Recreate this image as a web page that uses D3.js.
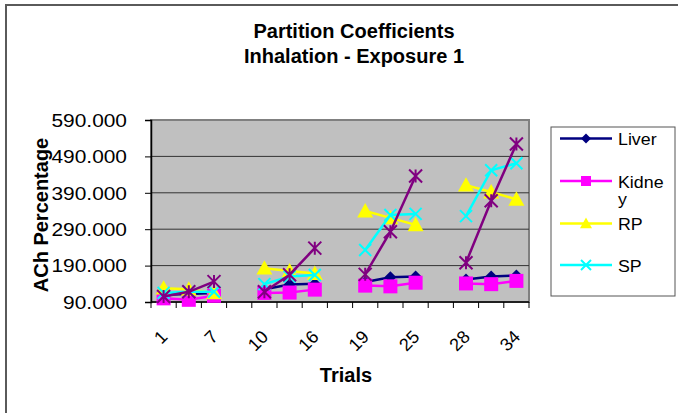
<!DOCTYPE html>
<html>
<head>
<meta charset="utf-8">
<script src="https://cdn.jsdelivr.net/npm/d3@7"></script>
<style>
html,body{margin:0;padding:0;background:#fff;}
svg{display:block;font-family:"Liberation Sans",Arial,sans-serif;}
</style>
</head>
<body>
<svg id="chart" width="678" height="413"></svg>
<script>
// ---- data ----
const categories = ["1","4","7","","10","13","16","","19","22","25","","28","31","34"];
const tickLabels = ["1","7","10","16","19","25","28","34"];
const liver  = [110,112,115,null,125,138,140,null,145,158,160,null,152,160,163];
const kidney = [100, 96,107,null,115,116,124,null,135,133,143,null,141,139,148];
const rp     = [128,125,115,null,183,175,168,null,340,321,302,null,411,392,372];
const sp     = [115,118,118,null,139,160,164,null,233,329,332,null,326,452,471];
const series5= [105,118,146,null,118,165,238,null,166,283,436,null,198,368,524];
const yTicks = [90,190,290,390,490,590];

const seriesList = [
  {name:"Liver",  values:liver,  color:"#000080", marker:"diamond", legend:true},
  {name:"Kidney", values:kidney, color:"#ff00ff", marker:"square",  legend:true},
  {name:"RP",     values:rp,     color:"#ffff00", marker:"triangle",legend:true},
  {name:"SP",     values:sp,     color:"#00ffff", marker:"x",       legend:true},
  {name:"Series5",values:series5,color:"#800080", marker:"star",    legend:false}
];

const svg = d3.select("#chart");
const plot = {left:151, right:529, top:120, bottom:302};

// outer chart border
svg.append("rect").attr("x",6).attr("y",5).attr("width",720).attr("height",520)
  .attr("fill","none").attr("stroke","#5a5a5a").attr("stroke-width",2);

// title
const title = svg.append("text").attr("text-anchor","middle").attr("font-weight","bold")
  .attr("font-size",20).attr("fill","#000");
title.append("tspan").attr("x",354).attr("y",38).text("Partition Coefficients");
title.append("tspan").attr("x",354).attr("y",63).text("Inhalation - Exposure 1");

const x = d3.scaleBand().domain(d3.range(categories.length)).range([plot.left, plot.right]).padding(0);
const y = d3.scaleLinear().domain([90,590]).range([plot.bottom, plot.top]);

// plot area
svg.append("rect").attr("x",plot.left).attr("y",plot.top)
  .attr("width",plot.right-plot.left).attr("height",plot.bottom-plot.top)
  .attr("fill","#c0c0c0").attr("stroke","#808080").attr("stroke-width",2);

// gridlines
svg.append("g").selectAll("line").data(yTicks.slice(1,-1)).join("line")
  .attr("x1",plot.left).attr("x2",plot.right)
  .attr("y1",d=>y(d)).attr("y2",d=>y(d))
  .attr("stroke","#333").attr("stroke-width",1);

// y axis
const yAxis = d3.axisLeft(y).tickValues(yTicks).tickSize(6).tickFormat("");
const gy = svg.append("g").attr("transform",`translate(${plot.left},0)`).call(yAxis);
gy.select(".domain").attr("stroke","#000").attr("stroke-width",1.5);
gy.selectAll(".tick line").attr("stroke","#000");
svg.append("g").selectAll("g").data(yTicks).join("g")
  .attr("transform",d=>`translate(127,${y(d)}) scale(1.1,1)`)
  .append("text").attr("text-anchor","end").attr("dy","0.36em")
  .attr("font-size",19).attr("fill","#000").text(d=>d3.format(".3f")(d));

// x axis (ticks between categories)
const gx = svg.append("g");
gx.append("line").attr("x1",plot.left).attr("x2",plot.right)
  .attr("y1",plot.bottom).attr("y2",plot.bottom).attr("stroke","#000").attr("stroke-width",1.5);
const edges = d3.range(categories.length).map(i=>x(i)).concat([x.range()[1]]);
gx.selectAll("line.tk").data(edges).join("line").attr("class","tk")
  .attr("x1",d=>d).attr("x2",d=>d).attr("y1",plot.bottom).attr("y2",plot.bottom+6)
  .attr("stroke","#000");
const labelIdx = d3.range(categories.length).filter(i=>tickLabels.includes(categories[i]));
gx.selectAll("text").data(labelIdx).join("text")
  .attr("transform",i=>`translate(${x(i)+x.bandwidth()/2+5},${plot.bottom+36}) rotate(-45)`)
  .attr("text-anchor","end").attr("font-size",18).attr("fill","#000")
  .text(i=>categories[i]);

// axis titles
svg.append("text").attr("x",346).attr("y",382).attr("text-anchor","middle")
  .attr("font-weight","bold").attr("font-size",20).text("Trials");
svg.append("text").attr("transform","translate(48,215) rotate(-90)").attr("text-anchor","middle")
  .attr("font-weight","bold").attr("font-size",20).text("ACh Percentage");

// marker drawing
function drawMarker(g, type, color, s){
  if(type==="diamond"){
    g.append("path").attr("d",`M0,${-s}L${s},0L0,${s}L${-s},0Z`).attr("fill",color);
  } else if(type==="square"){
    g.append("rect").attr("x",-s).attr("y",-s).attr("width",2*s).attr("height",2*s).attr("fill",color);
  } else if(type==="triangle"){
    g.append("path").attr("d",`M0,${-s}L${s},${s*0.8}L${-s},${s*0.8}Z`).attr("fill",color);
  } else if(type==="x"){
    g.append("path").attr("d",`M${-s},${-s}L${s},${s}M${-s},${s}L${s},${-s}`)
      .attr("stroke",color).attr("stroke-width",2);
  } else if(type==="star"){
    g.append("path").attr("d",`M${-s},${-s}L${s},${s}M${-s},${s}L${s},${-s}M0,${-s}L0,${s}`)
      .attr("stroke",color).attr("stroke-width",2);
  }
}
const mSize = {diamond:6, square:7, triangle:8, x:6, star:6.5};

const line = d3.line().defined(d=>d.v!=null).x(d=>x(d.i)+x.bandwidth()/2).y(d=>y(d.v));
seriesList.forEach(s=>{
  const pts = s.values.map((v,i)=>({i,v}));
  const g = svg.append("g");
  g.append("path").datum(pts).attr("d",line).attr("fill","none")
    .attr("stroke",s.color).attr("stroke-width",2.5);
  pts.filter(d=>d.v!=null).forEach(d=>{
    const mg = g.append("g").attr("transform",`translate(${x(d.i)+x.bandwidth()/2},${y(d.v)})`);
    drawMarker(mg, s.marker, s.color, mSize[s.marker]);
  });
});

// legend
const lg = svg.append("g");
lg.append("rect").attr("x",551).attr("y",127).attr("width",124).attr("height",169)
  .attr("fill","#fff").attr("stroke","#555").attr("stroke-width",1);
const legendItems = seriesList.filter(s=>s.legend);
const ly = [138.5,181,223.5,265];
legendItems.forEach((s,k)=>{
  const g = lg.append("g");
  g.append("line").attr("x1",560).attr("x2",612).attr("y1",ly[k]).attr("y2",ly[k])
    .attr("stroke",s.color).attr("stroke-width",2.5);
  const mg = g.append("g").attr("transform",`translate(586,${ly[k]})`);
  drawMarker(mg, s.marker, s.color, {diamond:5,square:5,triangle:6,x:5,star:5}[s.marker]);
  const tg = g.append("g").attr("transform",`translate(618,${ly[k]+6.5}) scale(1.08,1)`);
  const t = tg.append("text").attr("x",0).attr("y",0).attr("font-size",16.5).attr("fill","#000");
  if(s.name==="Kidney"){
    t.append("tspan").attr("x",0).text("Kidne");
    t.append("tspan").attr("x",0).attr("dy",18).text("y");
  } else t.text(s.name);
});
</script>
</body>
</html>
